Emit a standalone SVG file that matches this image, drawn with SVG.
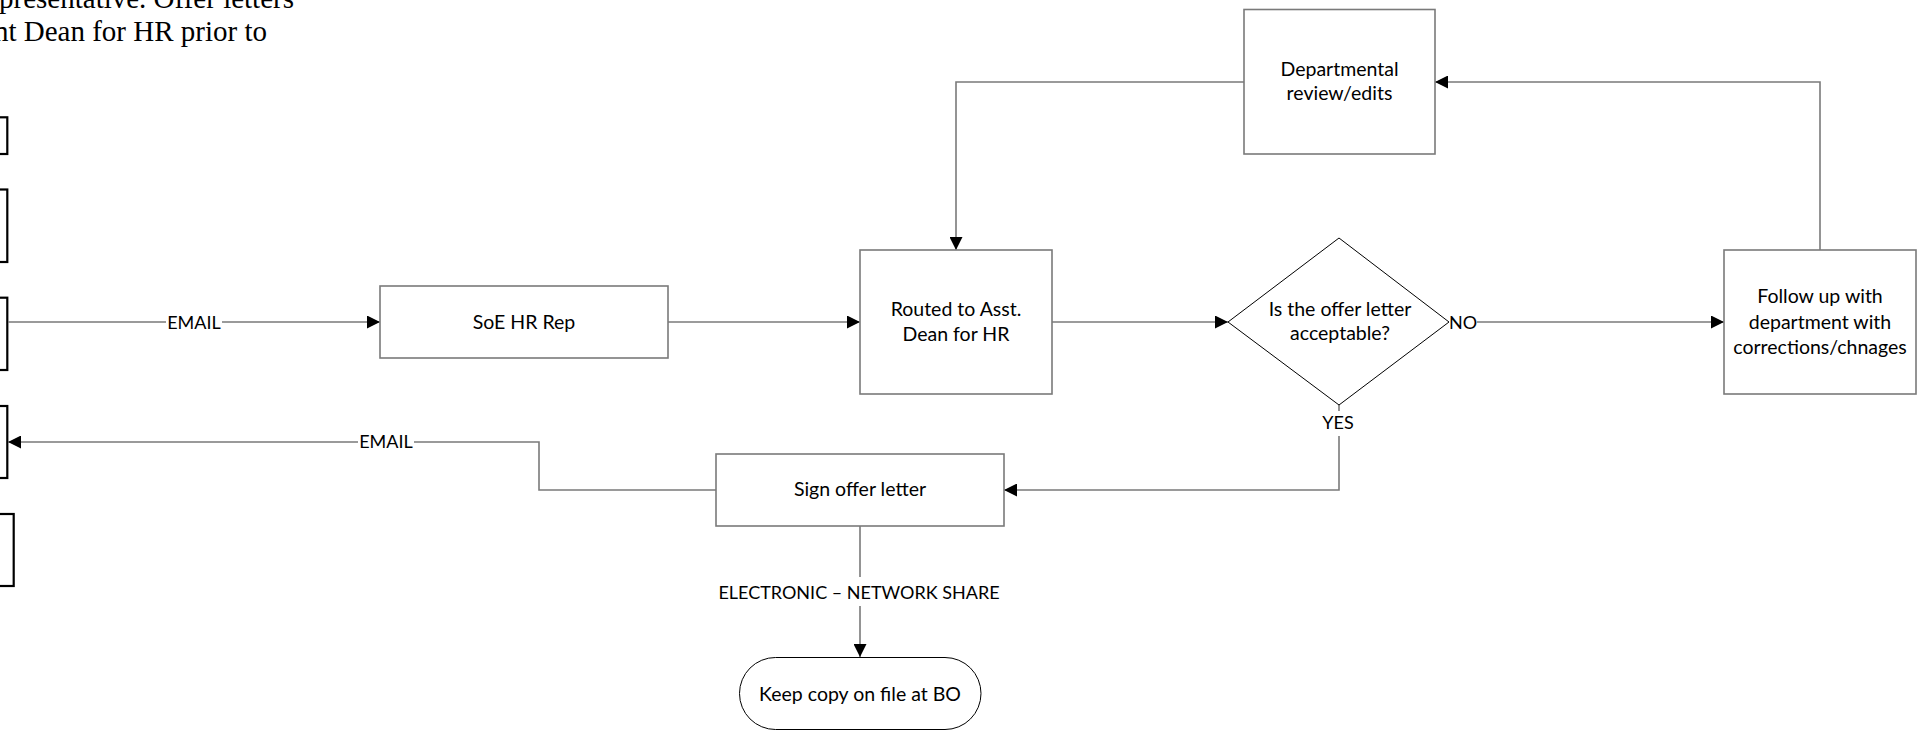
<svg xmlns="http://www.w3.org/2000/svg" width="1931" height="732" viewBox="0 0 1931 732">
  <defs>
    <marker id="arrow" markerUnits="userSpaceOnUse" markerWidth="13" markerHeight="13" refX="13" refY="6.5" orient="auto">
      <path d="M0,0 L13,6.5 L0,13 z" fill="#000"/>
    </marker>
  </defs>
  <style>
    .box { fill: #fff; stroke: #7a7a7a; stroke-width: 1.6; }
    .lane { fill: #fff; stroke: #000; stroke-width: 2.2; }
    .thin { fill: #fff; stroke: #000; stroke-width: 1; }
    .conn { fill: none; stroke: #7a7a7a; stroke-width: 1.6; }
    .lbl { font-family: Lato, "Liberation Sans", sans-serif; font-size: 19.5px; fill: #000; text-anchor: middle; }
    .caps { font-size: 18px; }
    .note { font-family: "Liberation Serif", serif; font-size: 29px; fill: #000; text-anchor: end; }
  </style>
  <rect width="1931" height="732" fill="#fff"/>

  <g id="note">
    <text class="note" x="294" y="8">presentative. Offer letters</text>
    <text class="note" x="267" y="41">nt Dean for HR prior to</text>
  </g>

  <g id="lane1"><rect class="lane" x="-50" y="117.3" width="57.3" height="36.7"/></g>
  <g id="lane2"><rect class="lane" x="-50" y="189.5" width="57.3" height="72.5"/></g>
  <g id="lane3"><rect class="lane" x="-50" y="297.7" width="57.3" height="72.3"/></g>
  <g id="lane4"><rect class="lane" x="-50" y="406" width="57.3" height="72"/></g>
  <g id="lane5"><rect class="lane" x="-50" y="514" width="63.7" height="72"/></g>

  <g id="connectors">
    <path class="conn" d="M8 322 H166 M222 322 H380" marker-end="url(#arrow)"/>
    <text class="lbl caps" x="194" y="328.5">EMAIL</text>

    <path class="conn" d="M668 322 H860" marker-end="url(#arrow)"/>
    <path class="conn" d="M1244 82 H956 V250" marker-end="url(#arrow)"/>
    <path class="conn" d="M1052 322 H1228" marker-end="url(#arrow)"/>

    <path class="conn" d="M1477 322 H1724" marker-end="url(#arrow)"/>
    <text class="lbl caps" x="1463" y="328.5">NO</text>

    <path class="conn" d="M1820 250 V82 H1435" marker-end="url(#arrow)"/>

    <path class="conn" d="M1339 405 V411 M1339 436 V490 H1004" marker-end="url(#arrow)"/>
    <text class="lbl caps" x="1338" y="429">YES</text>

    <path class="conn" d="M716 490 H539 V442 H414 M358 442 H8" marker-end="url(#arrow)"/>
    <text class="lbl caps" x="386" y="448">EMAIL</text>

    <path class="conn" d="M860 526 V577 M860 606 V657" marker-end="url(#arrow)"/>
    <text class="lbl caps" x="859" y="599">ELECTRONIC – NETWORK SHARE</text>
  </g>

  <g id="soe-hr-rep">
    <rect class="box" x="380" y="286" width="288" height="72"/>
    <text class="lbl" x="524" y="329">SoE HR Rep</text>
  </g>

  <g id="routed">
    <rect class="box" x="860" y="250" width="192" height="144"/>
    <text class="lbl" x="956" y="316">Routed to Asst.</text>
    <text class="lbl" x="956" y="341">Dean for HR</text>
  </g>

  <g id="departmental">
    <rect class="box" x="1244" y="9.5" width="191" height="144.5"/>
    <text class="lbl" x="1339.5" y="76">Departmental</text>
    <text class="lbl" x="1339.5" y="100">review/edits</text>
  </g>

  <g id="decision">
    <polygon class="thin" points="1339,238 1449,322 1339,405 1228,322"/>
    <text class="lbl" x="1340" y="316">Is the offer letter</text>
    <text class="lbl" x="1340" y="340">acceptable?</text>
  </g>

  <g id="follow-up">
    <rect class="box" x="1724" y="250" width="192" height="144"/>
    <text class="lbl" x="1820" y="303">Follow up with</text>
    <text class="lbl" x="1820" y="328.5">department with</text>
    <text class="lbl" x="1820" y="353.5">corrections/chnages</text>
  </g>

  <g id="sign">
    <rect class="box" x="716" y="454" width="288" height="72"/>
    <text class="lbl" x="860" y="496">Sign offer letter</text>
  </g>

  <g id="keep-copy">
    <rect class="thin" x="739.5" y="657.5" width="241.5" height="72" rx="36" ry="36"/>
    <text class="lbl" x="860" y="701">Keep copy on file at BO</text>
  </g>
</svg>
